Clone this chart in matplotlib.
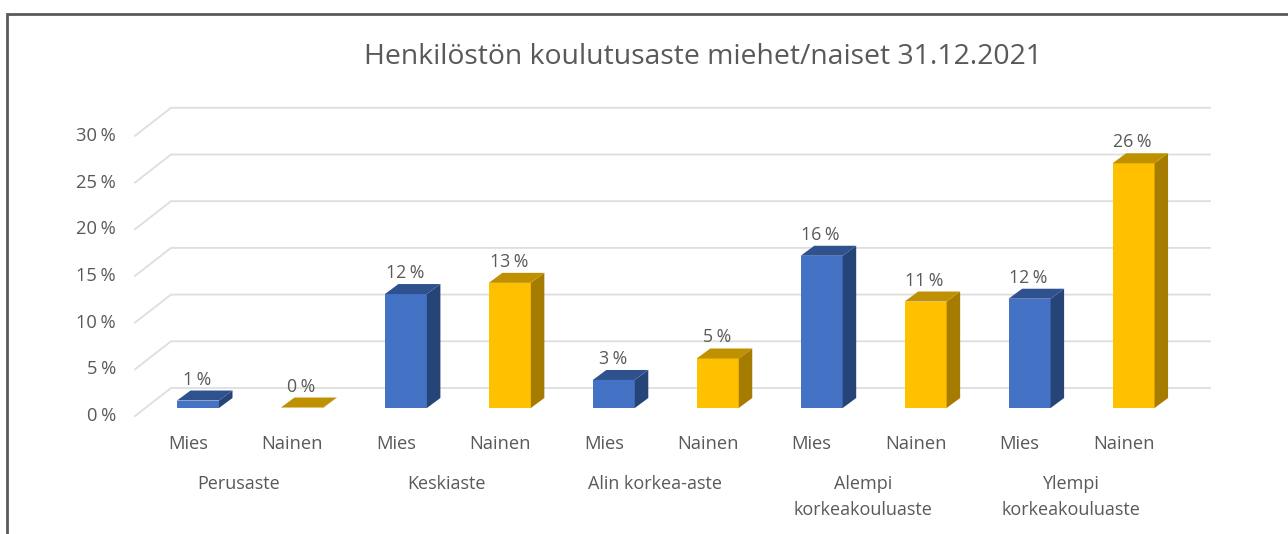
import matplotlib
matplotlib.use("Agg")
import matplotlib.pyplot as plt
from matplotlib.patches import Polygon
from matplotlib.transforms import ScaledTranslation

plt.rcParams['font.family'] = ['Open Sans', 'DejaVu Sans']

title = "Henkilöstön koulutusaste miehet/naiset 31.12.2021"
groups = ["Perusaste", "Keskiaste", "Alin korkea-aste", "Alempi\nkorkeakouluaste", "Ylempi\nkorkeakouluaste"]
genders = ["Mies", "Nainen"]
values = [0.8, 0.05, 12.2, 13.4, 3.0, 5.3, 16.3, 11.4, 11.7, 26.2]
value_labels = ["1\u202f%", "0\u202f%", "12\u202f%", "13\u202f%", "3\u202f%", "5\u202f%", "16\u202f%", "11\u202f%", "12\u202f%", "26\u202f%"]
yticks = [0, 5, 10, 15, 20, 25, 30]

W, H = 1288, 534
PX_X = 103.95     # pixels per category
PX_Y = 9.34       # pixels per percent
X0, Y0 = 198, 408 # pixel of first bar centre / zero line
TXT = "#595959"

fig = plt.figure(figsize=(W / 100, H / 100), dpi=100, facecolor="white")
L, R, T, B = 135, 1210, 108, 416
ax = fig.add_axes([L / W, 1 - B / H, (R - L) / W, (B - T) / H])
ax.set_xlim((L - X0) / PX_X, (R - X0) / PX_X)
ax.set_ylim((Y0 - B) / PX_Y, (Y0 - T) / PX_Y)
ax.patch.set_alpha(0)
for s in ax.spines.values():
    s.set_visible(False)

# floor/wall depth and bar depth, in data units
wall_dx, wall_dy = 36 / PX_X, 28 / PX_Y
bar_dx, bar_dy = 13.5 / PX_X, 10 / PX_Y
bar_w = 42 / PX_X
x_left = ax.get_xlim()[0]
x_right = ax.get_xlim()[1]
y_front = -8 / PX_Y  # left end of the gridlines sits slightly below the tick value

for v in yticks:
    ax.plot([x_left, x_left + wall_dx, x_right],
            [v + y_front, v + y_front + wall_dy, v + y_front + wall_dy],
            color="#DEDEDE", lw=1.3, clip_on=False, zorder=1, solid_joinstyle="miter")

schemes = [("#4472C4", "#2F528F", "#264478"), ("#FFC000", "#BF9000", "#A67C00")]
for i, v in enumerate(values):
    front, top, side = schemes[i % 2]
    l, r = i - bar_w / 2, i + bar_w / 2
    ax.bar(i, v, width=r - l, color=front, zorder=3 + i * 0.01)
    ax.add_patch(Polygon([(r, 0), (r + bar_dx, bar_dy), (r + bar_dx, v + bar_dy), (r, v)],
                         closed=True, fc=side, ec="none", zorder=3 + i * 0.01))
    ax.add_patch(Polygon([(l, v), (r, v), (r + bar_dx, v + bar_dy), (l + bar_dx, v + bar_dy)],
                         closed=True, fc=top, ec="none", zorder=3 + i * 0.01))
    ax.annotate(value_labels[i], (i, v), xytext=(-1, 21), textcoords="offset pixels",
                ha="center", va="center", fontsize=12.8, color=TXT, zorder=5)

ax.set_yticks(yticks, [f"{t}\u202f%" for t in yticks])
ax.set_xticks(range(len(values)), [genders[i % 2] for i in range(len(values))])
ax.tick_params(axis="both", length=0, labelsize=13.2, labelcolor=TXT)
ax.tick_params(axis="y", pad=13.7)
dy_lab = ScaledTranslation(0, -6 / 100, fig.dpi_scale_trans)
for lab in ax.get_yticklabels():
    lab.set_transform(lab.get_transform() + dy_lab)
dx_lab = ScaledTranslation(-10 / 100, -14 / 100, fig.dpi_scale_trans)
for lab in ax.get_xticklabels():
    lab.set_transform(lab.get_transform() + dx_lab)

for k, g in enumerate(groups):
    ax.annotate(g, (2 * k + 0.5, 0), xytext=(-11, -67), textcoords="offset pixels",
                ha="center", va="top", fontsize=13, color=TXT, linespacing=1.55, annotation_clip=False)

fig.text(703 / W, 1 - 57 / H, title, ha="center", va="center", fontsize=20.4, color=TXT)

# outer frame of the picture
fig.add_artist(plt.Line2D([7 / W, 7 / W, 1], [0, 1 - 13.5 / H, 1 - 13.5 / H],
                          color="#5A5A5A", lw=2, transform=fig.transFigure, solid_joinstyle="miter"))

fig.savefig("out.png", dpi=100, facecolor="white")
